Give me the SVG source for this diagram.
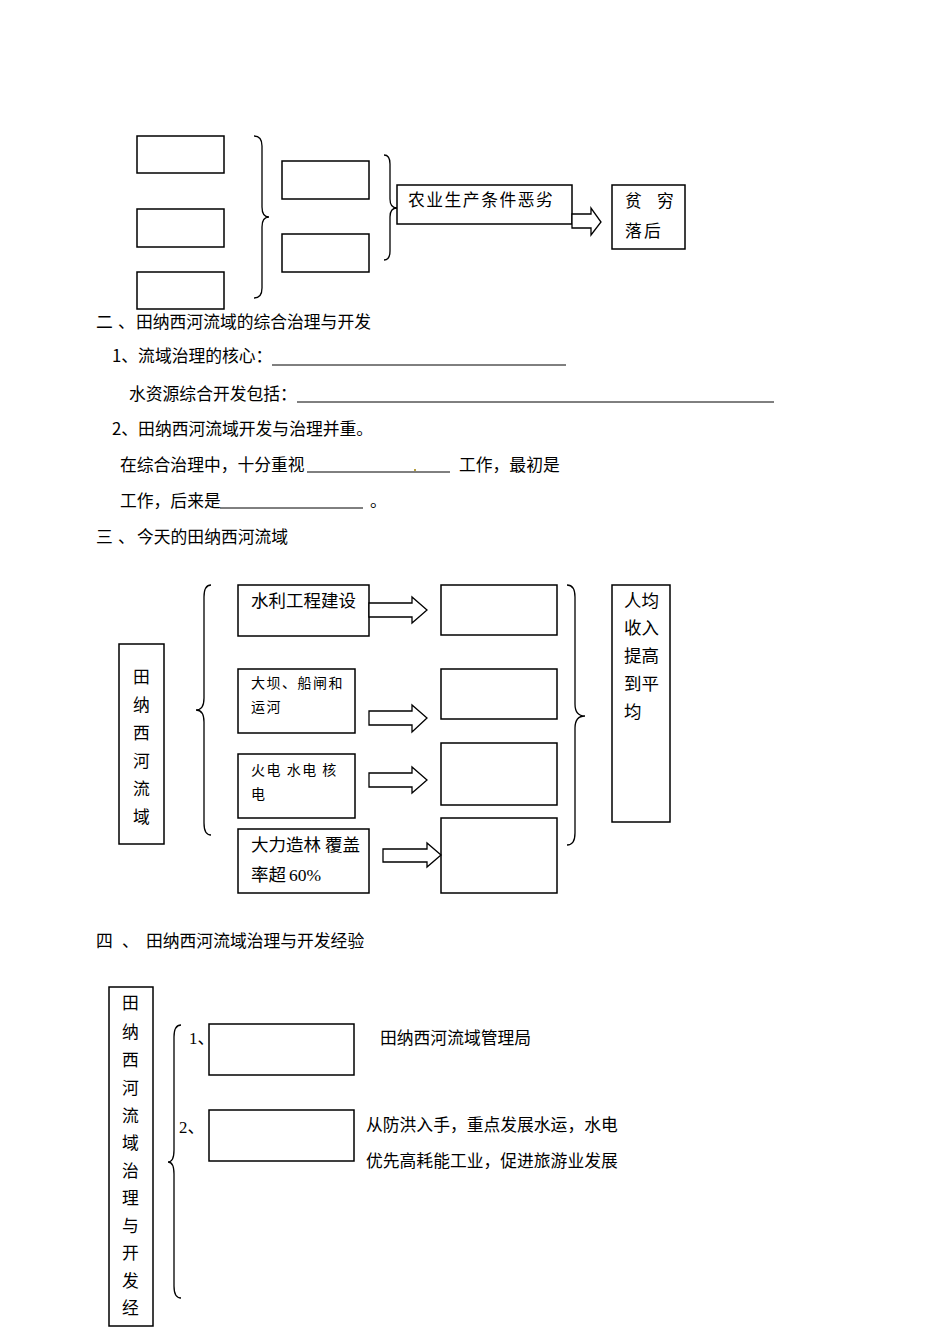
<svg xmlns="http://www.w3.org/2000/svg" width="950" height="1344" viewBox="0 0 950 1344">
<style>
.box{fill:#fff;stroke:#000;stroke-width:1.5}
.br{fill:none;stroke:#000;stroke-width:1.3}
.ar{fill:#fff;stroke:#000;stroke-width:1.3;stroke-linejoin:miter}
.t{font-family:"Noto Sans CJK SC","Liberation Serif",sans-serif;font-size:16.8px;fill:#000}
.s{font-family:"Noto Sans CJK SC","Liberation Serif",sans-serif;font-size:14px;fill:#000;letter-spacing:1.5px}
.l{font-family:"Noto Sans CJK SC","Liberation Serif",sans-serif;font-size:17.5px;fill:#000}
.ul{stroke:#000;stroke-width:1}
</style>
<rect width="950" height="1344" fill="#fff"/>

<!-- Section 1 -->
<g id="s1-box1"><rect class="box" x="137" y="136" width="87" height="37"/></g>
<g id="s1-box2"><rect class="box" x="137" y="209" width="87" height="38"/></g>
<g id="s1-box3"><rect class="box" x="137" y="272" width="87" height="37"/></g>
<g id="s1-box4"><rect class="box" x="282" y="161" width="87" height="38"/></g>
<g id="s1-box5"><rect class="box" x="282" y="234" width="87" height="38"/></g>
<g id="s1-farm"><rect class="box" x="397" y="185" width="175" height="39"/><text class="t" x="408" y="206" letter-spacing="1.5">农业生产条件恶劣</text></g>
<g id="s1-poor"><rect class="box" x="612" y="185" width="73" height="64"/><text class="t" x="625" y="207">贫<tspan x="657">穷</tspan></text><text class="t" x="625" y="237">落<tspan x="644">后</tspan></text></g>

<!-- Section 2 -->
<g id="sec2">
<text class="t" x="96" y="328">二<tspan x="118">、</tspan><tspan x="136">田纳西河流域的综合治理与开发</tspan></text>
<text class="t" x="112" y="362">1、流域治理的核心：</text>
<line class="ul" x1="272" y1="365" x2="566" y2="365"/>
<text class="t" x="129" y="400">水资源综合开发包括：</text>
<line class="ul" x1="297" y1="402" x2="774" y2="402"/>
<text class="t" x="112" y="435">2、田纳西河流域开发与治理并重。</text>
<text class="t" x="120" y="471">在综合治理中，十分重视</text>
<line class="ul" x1="307" y1="472" x2="450" y2="472"/>
<rect x="414" y="469" width="2" height="2" fill="#b8a040"/>
<text class="t" x="459" y="471">工作，最初是</text>
<text class="t" x="120" y="507">工作，后来是</text>
<line class="ul" x1="220" y1="508" x2="363" y2="508"/>
<text class="t" x="370" y="507">。</text>
<text class="t" x="96" y="543">三<tspan x="118">、</tspan><tspan x="137">今天的田纳西河流域</tspan></text>
</g>

<!-- Section 3 -->
<g id="s3-river"><rect class="box" x="119" y="644" width="45" height="200"/>
<text class="t" x="133" y="683">田</text><text class="t" x="133" y="711">纳</text><text class="t" x="133" y="739">西</text><text class="t" x="133" y="767">河</text><text class="t" x="133" y="795">流</text><text class="t" x="133" y="823">域</text></g>
<g id="s3-water"><rect class="box" x="238" y="585" width="131" height="51"/><text class="l" x="251" y="607">水利工程建设</text></g>
<g id="s3-dam"><rect class="box" x="238" y="669" width="117" height="64"/><text class="s" x="251" y="688">大坝、船闸和</text><text class="s" x="251" y="712">运河</text></g>
<g id="s3-power"><rect class="box" x="238" y="754" width="117" height="64"/><text class="s" x="251" y="775">火电 水电 核</text><text class="s" x="251" y="799">电</text></g>
<g id="s3-forest"><rect class="box" x="238" y="829" width="131" height="64"/><text class="l" x="251" y="851">大力造林 覆盖</text><text class="l" x="251" y="881">率超<tspan x="289" font-family="Liberation Serif">60%</tspan></text></g>
<g id="s3-r1"><rect class="box" x="441" y="585" width="116" height="50"/></g>
<g id="s3-r2"><rect class="box" x="441" y="669" width="116" height="50"/></g>
<g id="s3-r3"><rect class="box" x="441" y="743" width="116" height="62"/></g>
<g id="s3-r4"><rect class="box" x="441" y="818" width="116" height="75"/></g>
<g id="s3-income"><rect class="box" x="612" y="585" width="58" height="237"/>
<text class="l" x="624" y="607">人均</text><text class="l" x="624" y="634">收入</text><text class="l" x="624" y="662">提高</text><text class="l" x="624" y="690">到平</text><text class="l" x="624" y="718">均</text></g>

<text class="t" x="96" y="947">四<tspan x="122">、</tspan><tspan x="146">田纳西河流域治理与开发经验</tspan></text>

<!-- Section 4 -->
<g id="s4-left"><rect class="box" x="109" y="987" width="44" height="339"/>
<text class="t" x="122" y="1009">田</text><text class="t" x="122" y="1038">纳</text><text class="t" x="122" y="1066">西</text><text class="t" x="122" y="1094">河</text><text class="t" x="122" y="1122">流</text><text class="t" x="122" y="1149">域</text><text class="t" x="122" y="1177">治</text><text class="t" x="122" y="1204">理</text><text class="t" x="122" y="1232">与</text><text class="t" x="122" y="1259">开</text><text class="t" x="122" y="1287">发</text><text class="t" x="122" y="1314">经</text></g>
<g id="s4-item1"><text class="t" x="189" y="1044"><tspan font-family="Liberation Serif">1</tspan>、</text><rect class="box" x="209" y="1024" width="145" height="51"/><text class="t" x="380" y="1044">田纳西河流域管理局</text></g>
<g id="s4-item2"><text class="t" x="179" y="1133"><tspan font-family="Liberation Serif">2</tspan>、</text><rect class="box" x="209" y="1110" width="145" height="51"/><text class="t" x="366" y="1131">从防洪入手，重点发展水运，水电</text><text class="t" x="366" y="1167">优先高耗能工业，促进旅游业发展</text></g>

<!-- Connectors: braces and arrows -->
<g id="connectors">
<path class="br" d="M254 136 Q262 136 262 146 L262 207 Q262 217 269 217 Q262 217 262 227 L262 288 Q262 298 254 298"/>
<path class="br" d="M384 155 Q390 155 390 164 L390 199 Q390 208 397 208 Q390 208 390 217 L390 251 Q390 260 384 260"/>
<path class="br" d="M211 585 Q204 585 204 597 L204 698 Q204 710 196 710 Q204 710 204 722 L204 823 Q204 835 211 835"/>
<path class="br" d="M567 585 Q575 585 575 597 L575 704 Q575 716 585 716 Q575 716 575 728 L575 833 Q575 845 567 845"/>
<path class="br" d="M181 1025 Q174 1025 174 1037 L174 1150 Q174 1162 168 1162 Q174 1162 174 1174 L174 1286 Q174 1298 181 1298"/>
<polygon class="ar" points="572,214 591,214 591,208 601,222 591,235 591,228 572,228"/>
<polygon class="ar" points="369,603 412,603 412,597 427,610 412,623 412,617 369,617"/>
<polygon class="ar" points="369,711 412,711 412,705 427,718 412,732 412,725 369,725"/>
<polygon class="ar" points="369,773 412,773 412,767 427,780 412,793 412,787 369,787"/>
<polygon class="ar" points="383,849 427,849 427,843 441,855 427,867 427,862 383,862"/>
</g>
</svg>
